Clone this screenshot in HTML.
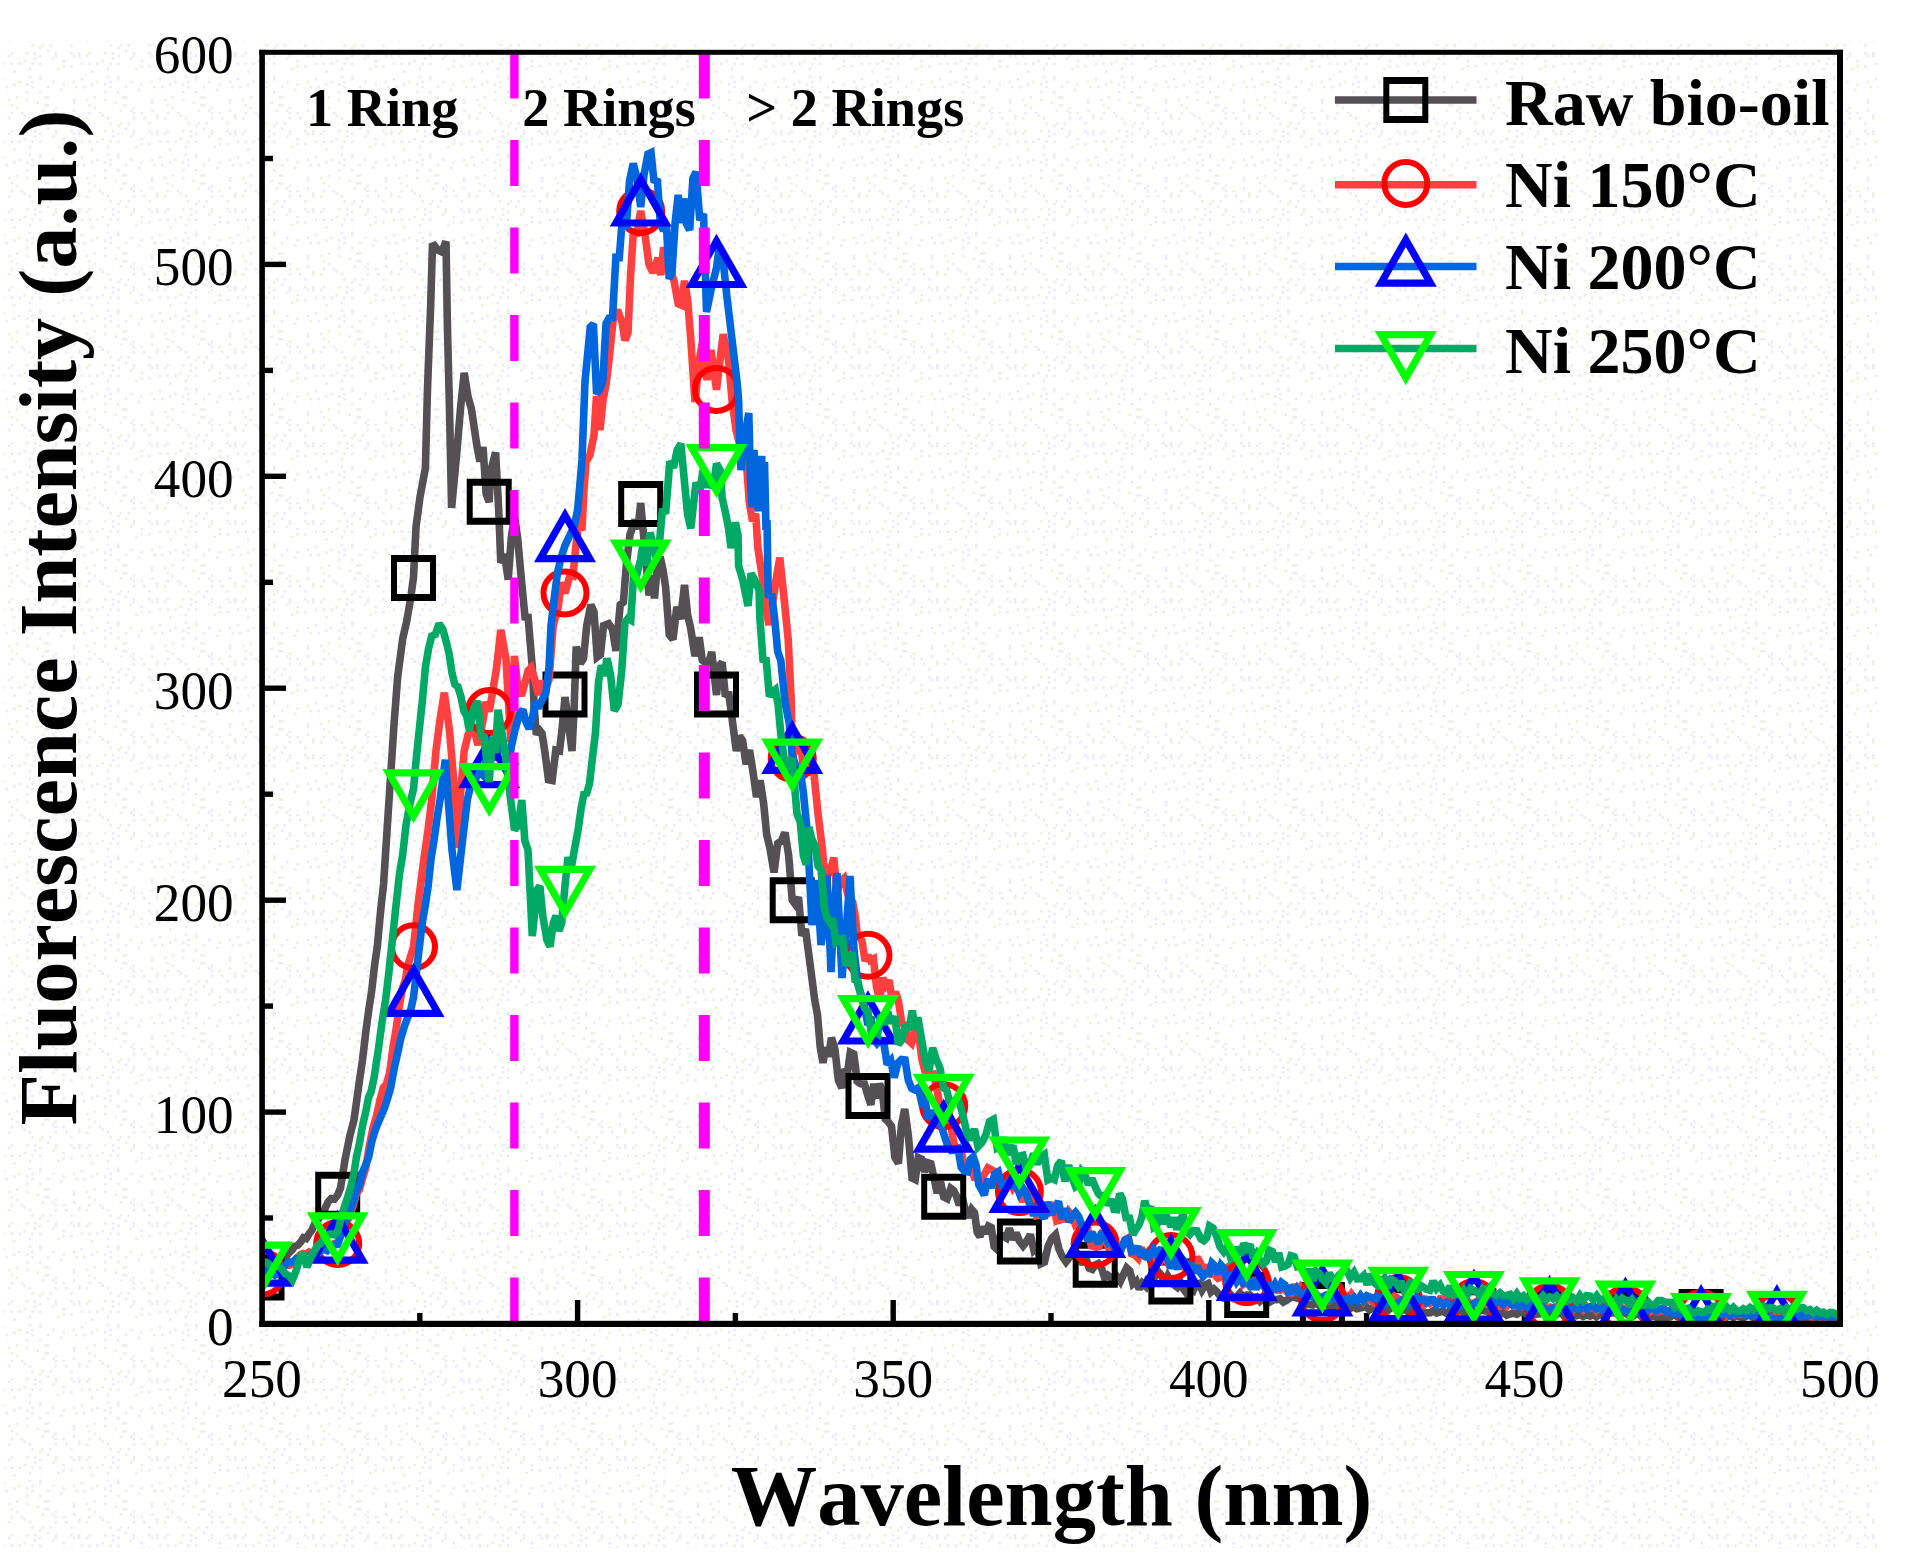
<!DOCTYPE html>
<html lang="en"><head><meta charset="utf-8"><title>Fluorescence spectra</title>
<style>
html,body{margin:0;padding:0;background:#fff;}
body{width:1910px;height:1568px;overflow:hidden;}
svg{display:block;}
text{font-family:"Liberation Serif","Times New Roman",serif;fill:#000;font-kerning:none;}
.tk{font-size:55px;}
.b{font-weight:bold;}
</style></head><body>
<svg width="1910" height="1568" viewBox="0 0 1910 1568">
<rect x="0" y="0" width="1910" height="1568" fill="#fff"/>
<defs><pattern id="dots" width="78" height="78" patternUnits="userSpaceOnUse"><rect x="2.6" y="0.0" width="2.6" height="2.6" fill="#eaeaf9"/><rect x="5.2" y="7.8" width="2.6" height="2.6" fill="#eaeaf9"/><rect x="0.0" y="36.4" width="2.6" height="2.6" fill="#eeeee2"/><rect x="0.0" y="39.0" width="2.6" height="2.6" fill="#eeeee2"/><rect x="0.0" y="52.0" width="2.6" height="2.6" fill="#eaeaf9"/><rect x="0.0" y="54.6" width="2.6" height="2.6" fill="#eaeaf9"/><rect x="2.6" y="62.4" width="2.6" height="2.6" fill="#eeeee2"/><rect x="13.0" y="5.2" width="2.6" height="2.6" fill="#eaeaf9"/><rect x="7.8" y="20.8" width="2.6" height="2.6" fill="#eeeee2"/><rect x="10.4" y="26.0" width="2.6" height="2.6" fill="#eeeee2"/><rect x="10.4" y="33.8" width="2.6" height="2.6" fill="#eaeaf9"/><rect x="7.8" y="39.0" width="2.6" height="2.6" fill="#eeeee2"/><rect x="10.4" y="52.0" width="2.6" height="2.6" fill="#eeeee2"/><rect x="7.8" y="54.6" width="2.6" height="2.6" fill="#eaeaf9"/><rect x="10.4" y="62.4" width="2.6" height="2.6" fill="#eaeaf9"/><rect x="13.0" y="70.2" width="2.6" height="2.6" fill="#eeeee2"/><rect x="18.2" y="2.6" width="2.6" height="2.6" fill="#eeeee2"/><rect x="15.6" y="18.2" width="2.6" height="2.6" fill="#eeeee2"/><rect x="15.6" y="28.6" width="2.6" height="2.6" fill="#eeeee2"/><rect x="20.8" y="33.8" width="2.6" height="2.6" fill="#eaeaf9"/><rect x="18.2" y="62.4" width="2.6" height="2.6" fill="#eaeaf9"/><rect x="26.0" y="5.2" width="2.6" height="2.6" fill="#eaeaf9"/><rect x="26.0" y="13.0" width="2.6" height="2.6" fill="#eaeaf9"/><rect x="26.0" y="20.8" width="2.6" height="2.6" fill="#eeeee2"/><rect x="23.4" y="36.4" width="2.6" height="2.6" fill="#eaeaf9"/><rect x="28.6" y="39.0" width="2.6" height="2.6" fill="#eaeaf9"/><rect x="26.0" y="52.0" width="2.6" height="2.6" fill="#eeeee2"/><rect x="23.4" y="59.8" width="2.6" height="2.6" fill="#eeeee2"/><rect x="28.6" y="67.6" width="2.6" height="2.6" fill="#eaeaf9"/><rect x="28.6" y="75.4" width="2.6" height="2.6" fill="#eaeaf9"/><rect x="31.2" y="2.6" width="2.6" height="2.6" fill="#eaeaf9"/><rect x="31.2" y="7.8" width="2.6" height="2.6" fill="#eaeaf9"/><rect x="36.4" y="23.4" width="2.6" height="2.6" fill="#eeeee2"/><rect x="31.2" y="44.2" width="2.6" height="2.6" fill="#eeeee2"/><rect x="33.8" y="52.0" width="2.6" height="2.6" fill="#eaeaf9"/><rect x="33.8" y="57.2" width="2.6" height="2.6" fill="#eaeaf9"/><rect x="31.2" y="62.4" width="2.6" height="2.6" fill="#eeeee2"/><rect x="39.0" y="0.0" width="2.6" height="2.6" fill="#eeeee2"/><rect x="39.0" y="13.0" width="2.6" height="2.6" fill="#eaeaf9"/><rect x="44.2" y="18.2" width="2.6" height="2.6" fill="#eeeee2"/><rect x="44.2" y="26.0" width="2.6" height="2.6" fill="#eeeee2"/><rect x="41.6" y="31.2" width="2.6" height="2.6" fill="#eeeee2"/><rect x="41.6" y="44.2" width="2.6" height="2.6" fill="#eeeee2"/><rect x="39.0" y="46.8" width="2.6" height="2.6" fill="#eeeee2"/><rect x="39.0" y="54.6" width="2.6" height="2.6" fill="#eaeaf9"/><rect x="39.0" y="62.4" width="2.6" height="2.6" fill="#eaeaf9"/><rect x="39.0" y="75.4" width="2.6" height="2.6" fill="#eaeaf9"/><rect x="52.0" y="2.6" width="2.6" height="2.6" fill="#eaeaf9"/><rect x="46.8" y="7.8" width="2.6" height="2.6" fill="#eaeaf9"/><rect x="46.8" y="18.2" width="2.6" height="2.6" fill="#eeeee2"/><rect x="46.8" y="26.0" width="2.6" height="2.6" fill="#eaeaf9"/><rect x="52.0" y="31.2" width="2.6" height="2.6" fill="#eaeaf9"/><rect x="49.4" y="44.2" width="2.6" height="2.6" fill="#eaeaf9"/><rect x="46.8" y="49.4" width="2.6" height="2.6" fill="#eaeaf9"/><rect x="52.0" y="57.2" width="2.6" height="2.6" fill="#eeeee2"/><rect x="59.8" y="10.4" width="2.6" height="2.6" fill="#eaeaf9"/><rect x="54.6" y="28.6" width="2.6" height="2.6" fill="#eeeee2"/><rect x="54.6" y="33.8" width="2.6" height="2.6" fill="#eaeaf9"/><rect x="54.6" y="39.0" width="2.6" height="2.6" fill="#eaeaf9"/><rect x="54.6" y="52.0" width="2.6" height="2.6" fill="#eeeee2"/><rect x="54.6" y="54.6" width="2.6" height="2.6" fill="#eaeaf9"/><rect x="57.2" y="67.6" width="2.6" height="2.6" fill="#eeeee2"/><rect x="62.4" y="5.2" width="2.6" height="2.6" fill="#eeeee2"/><rect x="62.4" y="33.8" width="2.6" height="2.6" fill="#eeeee2"/><rect x="65.0" y="39.0" width="2.6" height="2.6" fill="#eaeaf9"/><rect x="62.4" y="59.8" width="2.6" height="2.6" fill="#eaeaf9"/><rect x="62.4" y="65.0" width="2.6" height="2.6" fill="#eeeee2"/><rect x="72.8" y="2.6" width="2.6" height="2.6" fill="#eeeee2"/><rect x="75.4" y="7.8" width="2.6" height="2.6" fill="#eeeee2"/><rect x="72.8" y="20.8" width="2.6" height="2.6" fill="#eaeaf9"/><rect x="72.8" y="23.4" width="2.6" height="2.6" fill="#eaeaf9"/><rect x="72.8" y="31.2" width="2.6" height="2.6" fill="#eaeaf9"/><rect x="70.2" y="44.2" width="2.6" height="2.6" fill="#eaeaf9"/><rect x="70.2" y="52.0" width="2.6" height="2.6" fill="#eaeaf9"/><rect x="72.8" y="54.6" width="2.6" height="2.6" fill="#eaeaf9"/><rect x="70.2" y="65.0" width="2.6" height="2.6" fill="#eaeaf9"/></pattern></defs><rect x="4" y="41" width="1874" height="1507" fill="url(#dots)"/>
<defs><clipPath id="cp"><rect x="262.0" y="52.5" width="1578.0" height="1271.5"/></clipPath></defs>
<g stroke="#000" stroke-width="5.4"><line x1="262.0" y1="1218.0" x2="273.0" y2="1218.0"/><line x1="262.0" y1="1112.1" x2="286.0" y2="1112.1"/><line x1="262.0" y1="1006.1" x2="273.0" y2="1006.1"/><line x1="262.0" y1="900.2" x2="286.0" y2="900.2"/><line x1="262.0" y1="794.2" x2="273.0" y2="794.2"/><line x1="262.0" y1="688.2" x2="286.0" y2="688.2"/><line x1="262.0" y1="582.3" x2="273.0" y2="582.3"/><line x1="262.0" y1="476.3" x2="286.0" y2="476.3"/><line x1="262.0" y1="370.4" x2="273.0" y2="370.4"/><line x1="262.0" y1="264.4" x2="286.0" y2="264.4"/><line x1="262.0" y1="158.5" x2="273.0" y2="158.5"/><line x1="419.8" y1="1324.0" x2="419.8" y2="1313.0"/><line x1="577.6" y1="1324.0" x2="577.6" y2="1300.0"/><line x1="735.4" y1="1324.0" x2="735.4" y2="1313.0"/><line x1="893.2" y1="1324.0" x2="893.2" y2="1300.0"/><line x1="1051.0" y1="1324.0" x2="1051.0" y2="1313.0"/><line x1="1208.8" y1="1324.0" x2="1208.8" y2="1300.0"/><line x1="1366.6" y1="1324.0" x2="1366.6" y2="1313.0"/><line x1="1524.4" y1="1324.0" x2="1524.4" y2="1300.0"/><line x1="1682.2" y1="1324.0" x2="1682.2" y2="1313.0"/></g>
<g clip-path="url(#cp)" fill="none" stroke-linejoin="miter" stroke-miterlimit="2.2" stroke-linecap="butt">
<polyline points="262.0,1278.0 266.0,1272.7 270.0,1270.0 273.7,1268.1 277.3,1263.6 281.0,1262.0 284.7,1259.5 288.3,1253.4 292.0,1250.0 294.9,1246.2 297.8,1245.3 300.7,1242.0 303.5,1237.8 306.2,1238.6 309.0,1234.0 312.0,1230.1 315.0,1223.2 318.0,1220.0 321.3,1212.7 324.7,1209.4 328.0,1202.0 331.2,1198.5 334.5,1198.9 337.7,1195.0 340.5,1188.0 345.0,1160.0 350.0,1135.0 354.0,1120.0 359.4,1081.0 362.5,1060.0 365.7,1032.7 368.9,1009.0 371.7,990.7 374.5,966.0 377.3,946.6 380.5,912.2 383.6,883.8 387.4,825.0 391.3,765.8 393.8,727.6 397.7,676.5 402.8,638.3 406.6,621.8 410.4,600.0 413.5,577.5 416.0,527.0 420.0,497.0 425.4,468.0 427.5,388.5 430.7,304.7 432.5,243.5 437.8,250.0 441.9,252.0 446.0,241.5 447.4,325.7 449.5,409.4 451.6,507.9 456.9,451.3 460.5,408.5 464.2,372.8 467.9,396.3 471.5,409.4 476.8,445.0 479.9,461.5 483.0,447.0 486.1,493.7 489.2,502.0 490.4,472.3 495.6,452.4 498.7,510.0 500.8,562.8 504.5,554.4 508.2,579.6 511.3,537.7 514.5,516.6 517.6,537.7 521.8,583.8 525.0,617.0 528.1,617.3 532.3,667.5 534.3,709.4 536.4,734.6 539.2,729.9 542.0,733.3 544.8,751.3 548.5,779.9 552.1,780.6 555.8,750.2 559.5,751.0 562.0,730.0 565.0,697.0 568.0,720.0 572.0,751.0 574.1,709.0 576.2,646.6 580.4,663.4 583.5,658.4 586.7,625.7 590.9,604.7 594.0,612.0 597.2,657.0 600.4,654.6 603.5,625.7 608.7,623.6 612.4,629.1 616.0,650.8 620.2,604.7 623.4,602.1 626.5,562.8 630.0,534.7 635.0,520.0 637.9,529.1 640.7,503.0 644.0,540.0 649.0,595.4 651.8,575.1 654.5,598.4 657.3,566.0 660.1,556.9 662.8,568.6 665.6,587.0 669.3,634.8 673.0,639.4 676.8,606.9 680.7,619.0 684.5,585.0 687.6,614.9 690.8,629.0 695.0,656.2 699.2,637.3 702.3,660.3 705.5,662.8 708.6,663.3 711.7,652.0 716.5,695.0 719.4,665.4 722.2,662.5 725.4,696.6 728.5,691.8 732.7,723.2 736.3,751.0 739.5,736.1 742.6,740.5 746.1,764.3 749.5,750.0 753.0,771.9 756.5,797.1 760.1,780.3 763.6,803.3 766.7,834.6 769.8,847.3 774.0,872.4 777.7,843.5 781.4,841.0 785.0,832.5 788.7,855.7 792.2,900.0 795.0,903.8 798.5,897.2 801.9,935.7 805.4,929.0 809.6,960.4 814.7,1000.0 817.5,1015.0 820.2,1046.9 823.0,1062.8 825.8,1047.4 828.6,1056.6 831.4,1037.7 834.9,1049.0 838.4,1080.5 841.9,1088.0 844.7,1069.2 847.5,1073.0 850.3,1052.4 853.8,1054.0 857.2,1081.3 860.7,1083.8 864.4,1083.9 868.0,1096.0 870.9,1104.8 873.8,1083.7 876.7,1098.2 879.6,1083.8 882.4,1091.8 885.2,1119.0 888.0,1121.5 891.5,1126.2 894.9,1157.2 898.4,1163.4 901.5,1124.9 904.7,1108.9 908.4,1135.7 912.0,1178.0 915.2,1179.6 918.3,1157.7 921.5,1159.0 924.6,1171.8 927.8,1162.8 930.9,1163.8 934.0,1178.0 937.2,1193.3 940.5,1181.4 943.7,1197.0 947.2,1198.7 950.8,1188.5 953.6,1190.6 956.4,1196.0 959.2,1205.0 962.3,1197.2 965.5,1211.4 968.6,1217.2 971.7,1209.4 974.5,1212.6 977.2,1232.3 980.0,1236.6 982.8,1226.8 985.7,1233.5 988.5,1226.2 991.3,1227.6 994.1,1246.7 996.9,1249.2 1000.0,1237.1 1003.1,1236.0 1006.3,1238.0 1009.4,1228.3 1012.7,1239.4 1016.1,1232.9 1019.4,1241.0 1023.1,1245.8 1026.7,1241.2 1030.4,1234.6 1033.9,1250.3 1037.3,1247.2 1040.8,1263.9 1044.5,1262.2 1048.2,1245.9 1051.8,1238.2 1055.5,1234.6 1059.0,1249.2 1062.5,1256.9 1066.0,1261.8 1069.5,1257.3 1073.0,1254.9 1076.5,1252.7 1080.0,1258.0 1083.0,1264.2 1086.1,1258.3 1089.1,1268.2 1092.2,1269.4 1095.2,1265.0 1098.3,1263.6 1101.5,1268.0 1104.6,1277.8 1107.7,1275.2 1110.9,1277.6 1114.0,1284.8 1117.2,1277.0 1120.3,1281.4 1123.5,1274.4 1126.7,1268.0 1129.8,1270.8 1133.0,1283.7 1136.2,1281.1 1139.3,1289.0 1142.4,1283.2 1145.6,1286.2 1148.7,1276.6 1151.9,1283.9 1155.0,1276.0 1158.2,1271.5 1161.4,1275.2 1164.6,1283.1 1167.8,1276.2 1171.0,1281.6 1174.2,1284.9 1177.3,1287.3 1180.5,1282.5 1183.7,1289.2 1186.8,1293.5 1190.0,1290.0 1193.0,1291.1 1196.0,1284.2 1199.0,1283.4 1202.0,1290.0 1205.0,1285.0 1208.0,1283.6 1211.0,1291.9 1214.0,1289.1 1217.0,1291.9 1220.0,1296.0 1223.3,1298.1 1226.7,1297.5 1230.0,1294.0 1233.3,1298.1 1236.7,1297.0 1240.0,1293.2 1243.4,1297.3 1246.7,1295.0 1250.0,1295.0 1253.4,1298.1 1256.7,1296.9 1260.0,1301.1 1263.3,1297.7 1266.7,1303.4 1270.0,1302.0 1273.3,1299.6 1276.7,1299.6 1280.0,1298.8 1283.3,1302.0 1286.7,1300.2 1290.0,1298.0 1293.2,1296.8 1296.5,1297.9 1299.7,1298.9 1303.0,1299.8 1306.2,1303.9 1309.4,1304.6 1312.7,1305.0 1315.9,1302.5 1319.2,1305.4 1322.4,1305.0 1325.8,1303.4 1329.2,1306.5 1332.7,1307.8 1336.1,1304.5 1339.5,1304.9 1342.9,1307.9 1346.3,1306.1 1349.7,1308.6 1353.2,1306.6 1356.6,1308.7 1360.0,1308.0 1363.2,1307.0 1366.3,1306.8 1369.5,1309.9 1372.7,1307.6 1375.8,1309.9 1379.0,1307.1 1382.2,1310.3 1385.3,1307.2 1388.5,1309.8 1391.7,1307.3 1394.8,1306.9 1398.0,1309.0 1401.2,1310.8 1404.5,1308.6 1407.7,1311.6 1410.9,1308.2 1414.2,1309.0 1417.4,1312.2 1420.6,1309.0 1423.8,1312.3 1427.1,1312.9 1430.3,1312.7 1433.5,1310.6 1436.8,1313.1 1440.0,1312.0 1443.4,1311.2 1446.8,1313.4 1450.2,1310.4 1453.6,1313.2 1457.0,1309.6 1460.4,1309.9 1463.8,1313.1 1467.2,1312.1 1470.6,1309.3 1474.0,1311.0 1477.3,1312.8 1480.5,1309.7 1483.8,1310.7 1487.1,1310.9 1490.4,1313.4 1493.6,1310.9 1496.9,1312.1 1500.2,1314.3 1503.5,1312.5 1506.7,1315.2 1510.0,1314.0 1513.3,1313.0 1516.7,1314.3 1520.0,1312.2 1523.3,1312.5 1526.7,1314.4 1530.0,1311.7 1533.3,1314.3 1536.7,1314.3 1540.0,1313.8 1543.3,1310.6 1546.7,1313.5 1550.0,1312.0 1553.3,1311.3 1556.7,1314.3 1560.0,1311.5 1563.3,1315.1 1566.7,1311.9 1570.0,1315.2 1573.3,1313.4 1576.7,1315.6 1580.0,1314.4 1583.3,1316.4 1586.7,1314.7 1590.0,1316.0 1593.2,1314.5 1596.4,1316.7 1599.5,1314.4 1602.7,1315.8 1605.9,1313.1 1609.1,1313.2 1612.3,1313.0 1615.5,1312.7 1618.6,1315.3 1621.8,1312.5 1625.0,1313.0 1628.2,1314.6 1631.4,1313.1 1634.5,1315.2 1637.7,1312.9 1640.9,1316.2 1644.1,1316.5 1647.3,1314.2 1650.5,1317.1 1653.6,1315.3 1656.8,1317.8 1660.0,1317.0 1663.4,1317.9 1666.8,1317.5 1670.2,1316.9 1673.7,1314.5 1677.1,1316.4 1680.5,1313.7 1683.9,1312.9 1687.3,1314.3 1690.8,1311.8 1694.2,1313.9 1697.6,1311.7 1701.0,1312.0 1704.2,1314.2 1707.5,1311.7 1710.8,1314.6 1714.0,1312.8 1717.2,1313.2 1720.5,1316.0 1723.8,1314.0 1727.0,1316.7 1730.2,1314.5 1733.5,1317.5 1736.8,1315.5 1740.0,1317.0 1743.4,1317.9 1746.7,1315.4 1750.1,1315.6 1753.5,1317.7 1756.8,1314.7 1760.2,1317.4 1763.5,1314.9 1766.9,1316.9 1770.3,1316.1 1773.6,1314.4 1777.0,1315.0 1780.3,1314.3 1783.6,1314.3 1786.9,1316.7 1790.2,1315.5 1793.5,1317.7 1796.8,1315.6 1800.1,1318.3 1803.4,1316.6 1806.7,1318.5 1810.0,1318.0 1813.3,1317.4 1816.7,1318.5 1820.0,1316.8 1823.3,1318.5 1826.7,1316.8 1830.0,1317.0 1833.3,1319.2 1836.7,1316.9 1840.0,1318.0" stroke="#545054" stroke-width="7.6"/>
<path transform="translate(262.0,1277.4)" d="M-22.5,-23h45v46h-45z M-16.5,-16h33v32h-33z" fill="#000" fill-rule="evenodd"/><path transform="translate(337.7,1194.7)" d="M-22.5,-23h45v46h-45z M-16.5,-16h33v32h-33z" fill="#000" fill-rule="evenodd"/><path transform="translate(413.5,578.1)" d="M-22.5,-23h45v46h-45z M-16.5,-16h33v32h-33z" fill="#000" fill-rule="evenodd"/><path transform="translate(489.2,501.8)" d="M-22.5,-23h45v46h-45z M-16.5,-16h33v32h-33z" fill="#000" fill-rule="evenodd"/><path transform="translate(565.0,694.6)" d="M-22.5,-23h45v46h-45z M-16.5,-16h33v32h-33z" fill="#000" fill-rule="evenodd"/><path transform="translate(640.7,503.9)" d="M-22.5,-23h45v46h-45z M-16.5,-16h33v32h-33z" fill="#000" fill-rule="evenodd"/><path transform="translate(716.5,694.6)" d="M-22.5,-23h45v46h-45z M-16.5,-16h33v32h-33z" fill="#000" fill-rule="evenodd"/><path transform="translate(792.2,900.2)" d="M-22.5,-23h45v46h-45z M-16.5,-16h33v32h-33z" fill="#000" fill-rule="evenodd"/><path transform="translate(868.0,1096.0)" d="M-22.5,-23h45v46h-45z M-16.5,-16h33v32h-33z" fill="#000" fill-rule="evenodd"/><path transform="translate(943.7,1196.8)" d="M-22.5,-23h45v46h-45z M-16.5,-16h33v32h-33z" fill="#000" fill-rule="evenodd"/><path transform="translate(1019.4,1241.4)" d="M-22.5,-23h45v46h-45z M-16.5,-16h33v32h-33z" fill="#000" fill-rule="evenodd"/><path transform="translate(1095.2,1264.7)" d="M-22.5,-23h45v46h-45z M-16.5,-16h33v32h-33z" fill="#000" fill-rule="evenodd"/><path transform="translate(1170.9,1281.6)" d="M-22.5,-23h45v46h-45z M-16.5,-16h33v32h-33z" fill="#000" fill-rule="evenodd"/><path transform="translate(1246.7,1295.0)" d="M-22.5,-23h45v46h-45z M-16.5,-16h33v32h-33z" fill="#000" fill-rule="evenodd"/><path transform="translate(1322.4,1304.9)" d="M-22.5,-23h45v46h-45z M-16.5,-16h33v32h-33z" fill="#000" fill-rule="evenodd"/><path transform="translate(1398.2,1309.2)" d="M-22.5,-23h45v46h-45z M-16.5,-16h33v32h-33z" fill="#000" fill-rule="evenodd"/><path transform="translate(1473.9,1311.3)" d="M-22.5,-23h45v46h-45z M-16.5,-16h33v32h-33z" fill="#000" fill-rule="evenodd"/><path transform="translate(1549.6,1312.3)" d="M-22.5,-23h45v46h-45z M-16.5,-16h33v32h-33z" fill="#000" fill-rule="evenodd"/><path transform="translate(1625.4,1313.4)" d="M-22.5,-23h45v46h-45z M-16.5,-16h33v32h-33z" fill="#000" fill-rule="evenodd"/><path transform="translate(1701.1,1311.9)" d="M-22.5,-23h45v46h-45z M-16.5,-16h33v32h-33z" fill="#000" fill-rule="evenodd"/><path transform="translate(1776.9,1315.5)" d="M-22.5,-23h45v46h-45z M-16.5,-16h33v32h-33z" fill="#000" fill-rule="evenodd"/>
<polyline points="262.0,1273.0 265.2,1273.2 268.5,1269.9 271.8,1268.0 275.0,1268.0 278.0,1268.3 281.0,1265.6 284.0,1266.9 287.0,1264.6 290.0,1265.0 293.3,1263.3 296.7,1259.5 300.0,1255.0 303.0,1253.5 306.0,1254.4 309.0,1252.2 312.0,1254.2 315.0,1252.0 318.3,1249.1 321.7,1249.3 325.0,1247.0 328.2,1245.3 331.4,1247.1 334.5,1243.5 337.7,1243.5 341.4,1232.5 345.0,1225.0 349.0,1217.5 353.0,1206.0 356.2,1194.5 359.4,1189.4 362.5,1178.7 365.7,1168.0 369.4,1145.7 373.0,1128.0 376.5,1116.1 380.0,1100.0 383.3,1087.6 386.5,1084.2 389.8,1072.0 392.9,1047.8 396.0,1030.0 399.2,1006.8 402.4,988.5 405.2,980.4 408.0,965.0 413.5,946.8 418.0,905.0 423.4,862.8 428.0,830.0 431.7,800.0 435.9,751.3 440.0,720.0 444.3,692.7 449.5,730.4 452.0,760.0 454.8,793.2 455.8,848.0 460.0,800.0 464.2,751.0 468.0,735.0 473.0,725.0 478.0,745.0 483.0,720.0 486.1,702.0 489.2,711.5 493.0,690.0 496.6,667.5 500.8,629.8 506.0,659.2 510.8,742.0 514.4,656.0 517.9,687.8 521.4,695.7 525.2,682.0 528.1,670.6 531.1,667.5 534.0,677.0 538.5,694.8 541.8,680.8 545.0,690.0 549.0,680.0 553.2,625.7 558.0,608.0 561.5,582.4 565.0,593.2 570.0,575.0 573.0,575.9 576.0,545.0 579.0,520.6 581.9,530.5 584.0,490.0 586.0,462.0 590.0,455.0 594.0,435.0 596.5,396.0 600.0,430.0 603.0,400.0 606.0,385.0 609.0,360.0 613.3,318.5 617.5,310.0 622.0,322.0 625.0,340.3 628.0,333.0 630.5,276.6 633.5,230.1 636.5,236.0 640.7,211.0 645.0,235.0 649.0,264.6 653.0,272.4 658.0,258.0 660.8,275.2 663.6,247.3 669.0,265.0 674.0,280.8 678.2,303.8 681.4,305.1 684.5,280.8 687.6,299.8 690.8,339.4 695.0,402.0 699.2,360.0 703.0,340.0 707.0,380.0 711.0,350.0 716.5,389.7 720.0,360.0 723.2,334.2 728.5,360.0 732.0,400.0 736.0,430.0 741.0,450.0 746.3,461.4 749.4,503.3 752.5,521.2 755.7,513.8 757.8,547.3 762.0,575.0 766.0,610.0 769.0,625.0 772.5,603.8 776.0,580.0 779.8,557.7 784.0,597.5 788.2,639.4 791.3,702.0 792.2,758.0 797.0,745.0 800.0,736.6 803.0,765.0 808.0,750.0 810.9,774.7 813.8,772.0 818.0,813.8 822.5,850.0 823.5,863.0 827.1,875.6 830.7,870.0 833.8,857.6 836.9,892.4 840.0,882.0 844.0,878.3 848.0,895.0 852.7,902.0 855.5,918.0 857.0,932.0 862.0,941.0 865.0,960.9 868.0,955.3 870.4,960.4 873.5,958.8 876.6,987.6 879.7,999.4 882.9,977.9 886.0,985.0 889.2,980.3 892.3,1001.8 895.5,991.8 898.6,1001.9 901.8,1023.2 904.9,1025.2 908.0,1040.0 911.5,1043.2 915.0,1030.0 918.5,1033.4 922.0,1060.0 926.0,1075.1 930.0,1075.0 933.5,1074.2 937.0,1090.0 940.4,1108.4 943.7,1105.8 946.9,1123.1 950.0,1120.0 954.0,1144.3 958.0,1150.0 961.0,1149.6 964.0,1166.0 967.0,1165.0 971.0,1165.9 975.0,1180.0 978.0,1174.0 981.0,1182.8 984.0,1175.0 988.0,1167.9 992.0,1170.0 996.0,1172.2 1000.0,1185.0 1003.3,1189.5 1006.7,1174.5 1010.0,1180.0 1013.1,1187.7 1016.3,1183.3 1019.4,1191.6 1022.9,1201.7 1026.5,1187.9 1030.0,1200.0 1033.3,1195.9 1036.7,1215.7 1040.0,1215.0 1043.3,1205.2 1046.7,1216.2 1050.0,1205.0 1053.3,1205.4 1056.7,1221.0 1060.0,1220.0 1063.0,1215.5 1066.0,1221.1 1069.0,1211.8 1072.0,1215.0 1075.2,1224.0 1078.5,1220.9 1081.8,1235.3 1085.0,1235.0 1088.4,1232.0 1091.8,1248.2 1095.2,1244.0 1098.5,1248.9 1101.7,1236.1 1105.0,1240.0 1108.0,1246.2 1111.0,1241.6 1114.0,1250.0 1117.7,1249.7 1121.3,1247.8 1125.0,1240.0 1128.3,1237.9 1131.7,1253.9 1135.0,1255.0 1138.0,1258.1 1141.0,1247.4 1144.0,1255.9 1147.0,1256.6 1150.0,1250.0 1153.3,1249.5 1156.7,1262.5 1160.0,1262.0 1163.7,1255.3 1167.3,1262.0 1171.0,1256.6 1174.5,1253.0 1178.0,1267.8 1181.5,1260.5 1185.0,1268.0 1188.0,1270.9 1191.0,1261.7 1194.0,1267.2 1197.0,1257.3 1200.0,1262.0 1203.0,1270.9 1206.0,1264.9 1209.0,1275.1 1212.0,1268.3 1215.0,1275.0 1218.0,1278.2 1221.0,1276.9 1224.0,1269.3 1227.0,1267.4 1230.0,1272.0 1233.3,1268.6 1236.7,1278.7 1240.0,1274.8 1243.4,1284.1 1246.7,1281.6 1249.8,1286.1 1252.8,1285.0 1255.8,1278.0 1258.9,1287.2 1262.0,1282.3 1265.0,1285.0 1268.3,1280.7 1271.7,1288.9 1275.0,1285.0 1278.3,1292.3 1281.7,1285.8 1285.0,1290.0 1288.0,1292.9 1291.0,1293.0 1294.0,1284.8 1297.0,1290.2 1300.0,1287.0 1303.2,1291.9 1306.4,1287.3 1309.6,1287.9 1312.8,1295.0 1316.0,1294.2 1319.2,1299.6 1322.4,1298.6 1325.6,1296.2 1328.9,1299.3 1332.1,1294.3 1335.3,1298.4 1338.5,1297.7 1341.8,1293.3 1345.0,1295.0 1348.1,1298.2 1351.2,1294.1 1354.4,1299.1 1357.5,1299.6 1360.6,1296.3 1363.8,1301.3 1366.9,1297.0 1370.0,1300.0 1373.5,1302.4 1377.0,1297.7 1380.5,1297.0 1384.0,1301.7 1387.5,1297.8 1391.0,1300.9 1394.5,1296.4 1398.0,1298.6 1401.1,1301.3 1404.3,1298.5 1407.4,1302.2 1410.6,1298.6 1413.7,1302.6 1416.9,1300.1 1420.0,1303.0 1423.3,1304.8 1426.7,1300.3 1430.0,1303.3 1433.3,1300.7 1436.7,1303.5 1440.0,1298.8 1443.3,1299.1 1446.7,1302.6 1450.0,1300.0 1453.4,1301.6 1456.9,1299.3 1460.3,1302.7 1463.7,1299.9 1467.1,1300.6 1470.6,1304.1 1474.0,1303.0 1477.2,1301.1 1480.5,1305.6 1483.8,1302.4 1487.0,1303.5 1490.2,1303.6 1493.5,1307.3 1496.8,1304.2 1500.0,1306.0 1503.1,1304.7 1506.2,1306.7 1509.4,1302.7 1512.5,1302.7 1515.6,1305.3 1518.8,1302.5 1521.9,1305.8 1525.0,1303.0 1528.1,1301.3 1531.2,1305.4 1534.4,1303.5 1537.5,1306.1 1540.6,1304.2 1543.8,1303.8 1546.9,1308.2 1550.0,1307.0 1553.3,1308.3 1556.7,1306.0 1560.0,1309.0 1563.3,1306.0 1566.7,1306.3 1570.0,1305.8 1573.3,1309.5 1576.7,1305.6 1580.0,1306.3 1583.3,1309.9 1586.7,1306.1 1590.0,1308.0 1593.2,1306.0 1596.4,1310.3 1599.5,1306.6 1602.7,1309.6 1605.9,1307.5 1609.1,1307.3 1612.3,1310.6 1615.5,1306.7 1618.6,1309.6 1621.8,1307.7 1625.0,1309.0 1628.2,1307.2 1631.4,1310.7 1634.5,1308.5 1637.7,1308.5 1640.9,1311.5 1644.1,1309.0 1647.3,1309.4 1650.5,1311.4 1653.6,1309.4 1656.8,1311.9 1660.0,1311.0 1663.4,1310.2 1666.8,1312.5 1670.2,1310.0 1673.7,1312.6 1677.1,1313.2 1680.5,1311.4 1683.9,1314.1 1687.3,1311.0 1690.8,1313.9 1694.2,1314.1 1697.6,1311.9 1701.0,1313.4 1704.2,1315.0 1707.5,1312.2 1710.8,1315.3 1714.0,1315.2 1717.2,1312.6 1720.5,1314.4 1723.8,1312.0 1727.0,1315.5 1730.2,1312.2 1733.5,1314.8 1736.8,1314.6 1740.0,1314.0 1743.4,1313.1 1746.7,1315.0 1750.1,1313.7 1753.5,1313.3 1756.8,1316.2 1760.2,1313.7 1763.5,1315.7 1766.9,1314.5 1770.3,1316.8 1773.6,1316.5 1777.0,1315.5 1780.3,1314.1 1783.6,1316.7 1786.9,1315.0 1790.2,1316.5 1793.5,1315.0 1796.8,1317.0 1800.1,1317.3 1803.4,1314.8 1806.7,1315.2 1810.0,1316.0 1813.3,1317.5 1816.7,1315.5 1820.0,1317.2 1823.3,1315.5 1826.7,1317.8 1830.0,1317.7 1833.3,1316.0 1836.7,1318.3 1840.0,1317.0" stroke="#ff4040" stroke-width="7.6"/>
<circle cx="262.0" cy="1273.1" r="21.5" fill="none" stroke="#f00" stroke-width="6"/><circle cx="337.7" cy="1243.5" r="21.5" fill="none" stroke="#f00" stroke-width="6"/><circle cx="413.5" cy="946.8" r="21.5" fill="none" stroke="#f00" stroke-width="6"/><circle cx="489.2" cy="711.6" r="21.5" fill="none" stroke="#f00" stroke-width="6"/><circle cx="565.0" cy="592.9" r="21.5" fill="none" stroke="#f00" stroke-width="6"/><circle cx="640.7" cy="211.4" r="21.5" fill="none" stroke="#f00" stroke-width="6"/><circle cx="716.5" cy="389.4" r="21.5" fill="none" stroke="#f00" stroke-width="6"/><circle cx="792.2" cy="758.2" r="21.5" fill="none" stroke="#f00" stroke-width="6"/><circle cx="868.0" cy="955.3" r="21.5" fill="none" stroke="#f00" stroke-width="6"/><circle cx="943.7" cy="1105.7" r="21.5" fill="none" stroke="#f00" stroke-width="6"/><circle cx="1019.4" cy="1191.6" r="21.5" fill="none" stroke="#f00" stroke-width="6"/><circle cx="1095.2" cy="1243.9" r="21.5" fill="none" stroke="#f00" stroke-width="6"/><circle cx="1170.9" cy="1256.6" r="21.5" fill="none" stroke="#f00" stroke-width="6"/><circle cx="1246.7" cy="1281.6" r="21.5" fill="none" stroke="#f00" stroke-width="6"/><circle cx="1322.4" cy="1298.6" r="21.5" fill="none" stroke="#f00" stroke-width="6"/><circle cx="1398.2" cy="1298.6" r="21.5" fill="none" stroke="#f00" stroke-width="6"/><circle cx="1473.9" cy="1302.8" r="21.5" fill="none" stroke="#f00" stroke-width="6"/><circle cx="1549.6" cy="1307.0" r="21.5" fill="none" stroke="#f00" stroke-width="6"/><circle cx="1625.4" cy="1309.2" r="21.5" fill="none" stroke="#f00" stroke-width="6"/><circle cx="1701.1" cy="1313.4" r="21.5" fill="none" stroke="#f00" stroke-width="6"/><circle cx="1776.9" cy="1315.5" r="21.5" fill="none" stroke="#f00" stroke-width="6"/>
<polyline points="262.0,1267.4 265.2,1268.2 268.5,1272.3 271.8,1272.5 275.0,1275.0 278.0,1273.7 281.0,1269.0 284.0,1266.2 287.0,1263.5 290.0,1262.0 293.0,1261.9 296.0,1258.9 299.0,1261.0 302.0,1258.1 305.0,1258.0 308.0,1258.1 311.0,1255.0 314.0,1253.3 317.0,1254.8 320.0,1252.0 323.5,1248.8 327.1,1250.5 330.6,1245.6 334.2,1245.1 337.7,1244.3 341.4,1234.1 345.0,1222.0 349.0,1213.6 353.0,1202.4 356.2,1191.7 359.4,1185.0 362.5,1172.3 365.7,1164.7 368.8,1156.8 371.9,1141.1 375.1,1130.4 378.2,1122.8 381.4,1115.3 384.5,1108.0 387.6,1098.4 390.8,1087.2 393.9,1070.0 397.0,1056.0 400.8,1038.5 404.5,1026.0 407.5,1018.0 410.5,1010.8 413.5,997.7 419.0,950.0 422.2,923.7 425.4,904.7 428.2,885.7 431.0,859.0 433.8,841.9 436.9,819.2 440.0,800.0 445.3,759.7 448.5,803.7 452.0,850.0 456.9,890.0 462.0,845.0 467.3,800.0 472.0,780.0 475.0,782.4 478.0,770.0 483.0,775.0 486.1,760.4 489.2,768.0 492.1,744.4 495.0,760.0 500.0,745.0 505.0,750.0 508.1,768.6 511.3,747.0 515.0,730.0 519.7,713.6 522.9,709.6 526.0,722.0 529.1,728.6 532.3,720.0 535.1,701.3 538.0,708.0 542.7,699.0 545.9,692.8 549.0,667.5 551.0,625.7 554.0,600.0 557.4,573.3 561.0,558.0 565.0,545.5 570.0,535.0 574.0,527.0 577.7,509.6 582.0,460.0 585.0,381.3 590.3,326.9 593.4,323.9 596.6,393.9 599.7,389.7 602.8,381.2 606.0,323.9 609.1,318.0 612.5,317.6 615.9,257.3 619.3,257.5 622.7,213.2 626.1,229.4 629.5,181.0 633.2,163.5 637.0,178.0 640.7,207.0 644.0,175.0 647.9,154.1 651.0,152.7 654.1,182.4 657.3,179.1 660.4,224.4 663.6,230.5 666.4,224.5 669.2,278.9 672.0,272.4 675.1,222.9 678.2,195.0 681.0,223.0 683.8,198.3 686.6,224.2 689.7,230.0 692.9,178.4 696.0,171.9 699.8,220.3 703.5,213.8 705.5,276.6 706.5,312.0 711.0,290.0 716.5,268.0 719.5,246.0 723.5,264.0 727.0,297.5 732.0,339.4 737.0,381.3 738.6,400.0 739.5,432.0 741.0,470.0 744.5,438.0 748.8,413.0 750.5,480.0 752.0,507.0 754.0,450.0 756.0,500.0 758.5,511.0 761.6,456.0 763.0,500.0 764.5,462.0 766.0,530.0 767.0,520.0 768.3,597.5 771.5,593.5 774.6,618.5 777.7,651.7 780.8,660.4 785.0,702.0 789.2,723.2 792.2,755.0 797.0,770.0 800.2,770.6 803.4,792.8 807.5,834.7 812.0,925.0 817.0,880.0 821.0,945.0 824.0,922.6 827.0,875.0 831.0,972.0 834.0,912.5 837.0,873.0 842.0,978.0 846.0,933.1 850.0,876.0 854.0,950.0 858.0,985.0 863.0,1000.0 868.0,1025.0 871.0,1016.8 874.0,1039.6 877.0,1043.4 880.0,1040.0 883.5,1040.6 887.1,1064.4 890.7,1060.5 894.2,1077.5 897.8,1063.2 901.4,1059.6 905.0,1060.0 908.3,1080.3 911.7,1088.4 915.0,1090.0 918.3,1087.9 921.7,1102.6 925.0,1100.0 928.3,1119.3 931.7,1110.3 935.0,1125.0 937.9,1118.9 940.8,1124.1 943.7,1133.7 947.5,1145.3 951.2,1150.5 955.0,1150.0 958.1,1148.7 961.2,1167.4 964.4,1171.0 967.5,1171.7 970.3,1159.4 973.2,1156.8 976.0,1165.0 978.8,1184.8 981.5,1189.7 984.3,1194.8 987.8,1179.1 991.3,1187.7 994.8,1173.8 998.2,1171.7 1001.6,1185.2 1005.0,1185.0 1008.6,1181.8 1012.2,1185.5 1015.8,1183.6 1019.4,1193.4 1022.9,1188.5 1026.5,1194.4 1030.0,1205.0 1033.6,1215.4 1037.2,1205.9 1040.8,1213.6 1044.3,1218.3 1047.9,1202.2 1051.5,1214.5 1055.0,1208.0 1058.5,1201.4 1061.9,1218.7 1065.4,1208.4 1068.8,1221.9 1072.3,1215.7 1075.5,1212.4 1078.7,1216.5 1081.8,1225.0 1085.0,1232.0 1088.4,1241.4 1091.8,1232.2 1095.2,1238.5 1098.5,1243.1 1101.7,1231.7 1105.0,1236.0 1108.0,1242.4 1111.0,1240.1 1114.0,1247.0 1117.7,1247.6 1121.3,1249.2 1125.0,1240.0 1128.3,1238.7 1131.7,1251.6 1135.0,1251.3 1138.0,1246.6 1141.0,1256.9 1144.0,1249.6 1147.0,1259.2 1150.0,1255.0 1153.3,1249.1 1156.7,1255.0 1160.0,1250.0 1163.7,1250.8 1167.3,1257.9 1171.0,1267.8 1174.5,1261.6 1178.0,1268.7 1181.5,1258.2 1185.0,1262.0 1188.0,1269.2 1191.0,1262.8 1194.0,1273.0 1197.0,1266.1 1200.0,1272.0 1203.0,1276.4 1206.0,1273.3 1209.0,1273.8 1212.0,1263.1 1215.0,1266.0 1218.0,1273.9 1221.0,1265.1 1224.0,1268.5 1227.0,1279.8 1230.0,1278.0 1233.3,1274.6 1236.7,1281.9 1240.0,1278.0 1243.4,1283.1 1246.7,1281.5 1249.8,1285.1 1252.8,1278.9 1255.8,1289.5 1258.9,1281.2 1262.0,1283.2 1265.0,1288.0 1268.3,1285.6 1271.7,1290.5 1275.0,1284.4 1278.3,1290.9 1281.7,1282.6 1285.0,1285.0 1288.0,1291.1 1291.0,1285.9 1294.0,1293.5 1297.0,1288.5 1300.0,1293.0 1303.2,1295.4 1306.4,1292.3 1309.6,1296.7 1312.8,1297.1 1316.0,1294.5 1319.2,1298.8 1322.4,1297.0 1325.6,1295.5 1328.9,1300.0 1332.1,1299.5 1335.3,1296.4 1338.5,1297.3 1341.8,1301.8 1345.0,1300.0 1348.1,1298.2 1351.2,1301.2 1354.4,1297.5 1357.5,1301.2 1360.6,1295.9 1363.8,1300.3 1366.9,1295.9 1370.0,1297.0 1373.1,1298.6 1376.3,1296.6 1379.4,1300.4 1382.5,1297.1 1385.7,1302.7 1388.8,1298.7 1391.9,1303.6 1395.1,1303.7 1398.2,1302.5 1401.3,1300.1 1404.4,1300.2 1407.5,1303.9 1410.7,1299.8 1413.8,1302.9 1416.9,1297.8 1420.0,1300.0 1423.3,1299.2 1426.7,1302.5 1430.0,1299.6 1433.3,1299.8 1436.7,1305.1 1440.0,1301.8 1443.3,1304.9 1446.7,1302.3 1450.0,1305.0 1453.4,1306.2 1456.9,1302.7 1460.3,1305.7 1463.7,1302.5 1467.1,1305.7 1470.6,1305.2 1474.0,1303.5 1477.2,1302.3 1480.5,1305.1 1483.8,1300.6 1487.0,1301.7 1490.2,1301.1 1493.5,1304.5 1496.8,1300.2 1500.0,1302.0 1503.1,1304.7 1506.2,1300.9 1509.4,1301.6 1512.5,1305.0 1515.6,1303.1 1518.8,1306.9 1521.9,1304.4 1525.0,1306.0 1528.5,1308.2 1532.1,1304.9 1535.6,1308.5 1539.1,1309.0 1542.6,1306.7 1546.2,1310.5 1549.7,1309.5 1553.1,1307.9 1556.4,1310.1 1559.8,1307.1 1563.1,1310.2 1566.5,1307.2 1569.8,1309.5 1573.2,1308.9 1576.6,1306.7 1579.9,1308.9 1583.3,1306.1 1586.6,1309.1 1590.0,1307.0 1593.2,1305.4 1596.4,1308.9 1599.7,1307.2 1602.9,1310.2 1606.1,1307.8 1609.3,1310.9 1612.5,1311.3 1615.7,1309.0 1619.0,1311.2 1622.2,1309.2 1625.4,1311.0 1628.9,1311.8 1632.3,1311.3 1635.8,1312.3 1639.2,1311.4 1642.7,1308.5 1646.2,1311.8 1649.6,1308.5 1653.1,1308.0 1656.5,1310.9 1660.0,1309.0 1663.4,1308.1 1666.8,1312.0 1670.2,1310.3 1673.7,1313.6 1677.1,1312.0 1680.5,1315.1 1683.9,1313.2 1687.3,1315.0 1690.8,1315.4 1694.2,1318.2 1697.6,1317.6 1701.0,1319.0 1704.2,1319.7 1707.5,1316.8 1710.8,1318.1 1714.0,1318.1 1717.2,1317.7 1720.5,1315.1 1723.8,1314.0 1727.0,1314.0 1730.2,1315.6 1733.5,1313.4 1736.8,1314.3 1740.0,1313.0 1743.4,1312.4 1746.7,1315.3 1750.1,1313.4 1753.5,1316.2 1756.8,1314.8 1760.2,1317.7 1763.5,1316.0 1766.9,1318.3 1770.3,1317.2 1773.6,1319.1 1777.0,1319.0 1780.3,1319.2 1783.6,1317.6 1786.9,1318.4 1790.2,1316.8 1793.5,1317.6 1796.8,1315.6 1800.1,1316.8 1803.4,1314.8 1806.7,1316.0 1810.0,1315.0 1813.3,1314.4 1816.7,1317.2 1820.0,1315.4 1823.3,1317.0 1826.7,1315.8 1830.0,1317.6 1833.3,1316.6 1836.7,1316.8 1840.0,1318.0" stroke="#0066dd" stroke-width="7.6"/>
<path transform="translate(262.0,1266.6)" d="M0,-26.8 L24.8,16.6 L-24.8,16.6 Z" fill="none" stroke="#00f" stroke-width="7.2" stroke-linejoin="miter"/><path transform="translate(337.7,1243.5)" d="M0,-26.8 L24.8,16.6 L-24.8,16.6 Z" fill="none" stroke="#00f" stroke-width="7.2" stroke-linejoin="miter"/><path transform="translate(413.5,996.8)" d="M0,-26.8 L24.8,16.6 L-24.8,16.6 Z" fill="none" stroke="#00f" stroke-width="7.2" stroke-linejoin="miter"/><path transform="translate(489.2,768.0)" d="M0,-26.8 L24.8,16.6 L-24.8,16.6 Z" fill="none" stroke="#00f" stroke-width="7.2" stroke-linejoin="miter"/><path transform="translate(565.0,542.1)" d="M0,-26.8 L24.8,16.6 L-24.8,16.6 Z" fill="none" stroke="#00f" stroke-width="7.2" stroke-linejoin="miter"/><path transform="translate(640.7,206.4)" d="M0,-26.8 L24.8,16.6 L-24.8,16.6 Z" fill="none" stroke="#00f" stroke-width="7.2" stroke-linejoin="miter"/><path transform="translate(716.5,267.9)" d="M0,-26.8 L24.8,16.6 L-24.8,16.6 Z" fill="none" stroke="#00f" stroke-width="7.2" stroke-linejoin="miter"/><path transform="translate(792.2,753.8)" d="M0,-26.8 L24.8,16.6 L-24.8,16.6 Z" fill="none" stroke="#00f" stroke-width="7.2" stroke-linejoin="miter"/><path transform="translate(868.0,1024.4)" d="M0,-26.8 L24.8,16.6 L-24.8,16.6 Z" fill="none" stroke="#00f" stroke-width="7.2" stroke-linejoin="miter"/><path transform="translate(943.7,1132.5)" d="M0,-26.8 L24.8,16.6 L-24.8,16.6 Z" fill="none" stroke="#00f" stroke-width="7.2" stroke-linejoin="miter"/><path transform="translate(1019.4,1192.7)" d="M0,-26.8 L24.8,16.6 L-24.8,16.6 Z" fill="none" stroke="#00f" stroke-width="7.2" stroke-linejoin="miter"/><path transform="translate(1095.2,1237.8)" d="M0,-26.8 L24.8,16.6 L-24.8,16.6 Z" fill="none" stroke="#00f" stroke-width="7.2" stroke-linejoin="miter"/><path transform="translate(1170.9,1267.0)" d="M0,-26.8 L24.8,16.6 L-24.8,16.6 Z" fill="none" stroke="#00f" stroke-width="7.2" stroke-linejoin="miter"/><path transform="translate(1246.7,1280.8)" d="M0,-26.8 L24.8,16.6 L-24.8,16.6 Z" fill="none" stroke="#00f" stroke-width="7.2" stroke-linejoin="miter"/><path transform="translate(1322.4,1296.3)" d="M0,-26.8 L24.8,16.6 L-24.8,16.6 Z" fill="none" stroke="#00f" stroke-width="7.2" stroke-linejoin="miter"/><path transform="translate(1398.2,1302.0)" d="M0,-26.8 L24.8,16.6 L-24.8,16.6 Z" fill="none" stroke="#00f" stroke-width="7.2" stroke-linejoin="miter"/><path transform="translate(1473.9,1302.6)" d="M0,-26.8 L24.8,16.6 L-24.8,16.6 Z" fill="none" stroke="#00f" stroke-width="7.2" stroke-linejoin="miter"/><path transform="translate(1549.6,1308.8)" d="M0,-26.8 L24.8,16.6 L-24.8,16.6 Z" fill="none" stroke="#00f" stroke-width="7.2" stroke-linejoin="miter"/><path transform="translate(1625.4,1310.5)" d="M0,-26.8 L24.8,16.6 L-24.8,16.6 Z" fill="none" stroke="#00f" stroke-width="7.2" stroke-linejoin="miter"/><path transform="translate(1701.1,1318.1)" d="M0,-26.8 L24.8,16.6 L-24.8,16.6 Z" fill="none" stroke="#00f" stroke-width="7.2" stroke-linejoin="miter"/><path transform="translate(1776.9,1318.1)" d="M0,-26.8 L24.8,16.6 L-24.8,16.6 Z" fill="none" stroke="#00f" stroke-width="7.2" stroke-linejoin="miter"/>
<polyline points="262.0,1261.0 266.0,1262.3 270.0,1265.0 273.0,1266.8 275.9,1266.2 278.9,1266.9 281.9,1269.4 285.4,1273.7 288.9,1275.7 292.4,1280.0 295.9,1271.5 299.3,1260.2 302.8,1252.7 307.0,1267.0 311.0,1257.0 315.0,1250.0 317.9,1245.1 320.9,1243.4 323.8,1238.0 327.3,1234.7 330.8,1234.0 334.2,1234.8 337.7,1231.7 341.4,1217.3 345.0,1205.0 348.0,1196.3 351.0,1185.7 353.8,1174.1 356.6,1156.3 359.4,1143.8 362.5,1125.8 365.7,1112.0 368.5,1097.8 371.2,1091.3 374.0,1078.0 378.0,1052.0 381.9,1023.2 385.7,999.0 389.2,969.7 392.6,937.7 396.1,904.7 399.4,874.8 402.7,854.7 406.0,825.0 409.8,804.3 413.5,789.0 416.4,757.3 419.2,730.4 422.3,701.5 425.4,667.5 428.5,648.9 431.7,636.1 435.4,634.5 439.1,623.6 442.8,629.1 446.4,642.4 449.2,654.1 452.0,673.0 454.8,684.3 457.9,686.6 461.0,696.9 463.8,711.0 466.6,715.9 469.4,730.4 473.6,709.4 477.8,701.0 480.9,735.3 484.0,736.6 489.2,782.0 492.5,736.6 495.3,752.9 498.0,709.8 500.8,726.2 505.0,751.0 510.0,795.0 514.5,830.0 518.1,825.2 521.8,800.0 524.9,841.0 528.0,850.0 532.3,936.0 537.0,890.0 539.9,886.1 542.7,915.2 547.0,940.3 550.1,946.6 553.2,923.6 556.0,915.7 558.8,930.9 561.6,923.6 565.0,885.6 568.0,857.1 571.0,869.6 574.0,852.0 578.3,829.0 581.1,808.4 583.9,794.0 586.7,793.2 589.5,783.7 592.4,758.0 595.5,732.5 598.6,681.3 601.4,665.3 604.2,675.8 607.0,658.3 610.6,675.0 614.3,710.6 618.0,704.8 621.7,670.8 624.9,622.9 628.0,618.5 630.8,620.1 633.5,576.6 636.3,576.6 640.5,559.8 643.6,540.3 646.8,565.8 649.9,532.6 653.0,543.0 656.1,557.5 659.3,544.3 662.5,508.9 665.6,513.8 669.8,461.4 673.5,467.7 677.2,450.0 680.9,443.8 684.5,482.4 687.6,514.6 690.8,528.4 696.0,482.4 699.5,493.7 703.0,470.0 706.5,487.4 710.0,475.0 713.2,488.3 716.5,463.7 720.8,471.4 722.0,497.0 725.9,514.8 728.4,527.6 731.0,548.0 735.4,522.4 738.0,535.0 738.6,565.8 742.4,578.6 745.0,591.3 748.0,606.0 751.0,573.5 754.0,578.6 759.0,590.0 759.9,618.5 763.0,659.6 766.2,660.4 769.4,696.4 772.5,691.8 775.3,689.6 778.0,703.9 780.8,733.7 784.0,758.0 788.0,765.0 792.2,758.3 797.0,813.8 800.2,821.9 803.4,855.7 806.2,864.6 808.9,827.2 811.7,839.0 814.9,845.3 818.0,866.0 821.1,869.9 824.3,908.0 827.1,917.9 829.9,922.3 832.7,918.5 835.9,942.0 839.0,939.4 842.5,938.9 845.9,965.0 849.4,960.4 852.2,952.3 855.0,979.8 857.8,981.3 861.2,997.0 864.6,1008.2 868.0,1012.0 871.5,1033.5 875.0,1030.0 877.9,1032.8 880.8,1015.0 884.3,1024.8 887.8,1012.2 891.3,1023.2 894.8,1016.5 898.3,1044.3 901.8,1040.0 905.3,1024.9 908.8,1030.1 912.3,1010.6 915.1,1029.2 917.8,1017.5 920.6,1033.7 925.7,1062.8 929.1,1070.8 932.6,1047.8 936.0,1058.6 939.9,1067.9 943.7,1088.0 946.6,1090.0 949.4,1100.9 952.2,1103.6 955.0,1100.0 957.8,1097.5 960.6,1106.5 963.4,1117.3 967.0,1133.5 970.7,1139.9 974.4,1128.9 978.0,1146.6 981.8,1142.7 985.7,1135.4 989.5,1121.5 993.3,1119.4 997.2,1148.1 1001.0,1146.6 1004.0,1137.5 1007.0,1153.8 1010.0,1150.0 1013.1,1145.7 1016.3,1164.2 1019.4,1156.0 1022.9,1155.2 1026.5,1169.5 1030.0,1165.0 1033.6,1153.7 1037.2,1164.0 1040.8,1157.0 1044.3,1154.5 1047.8,1179.8 1051.3,1178.0 1054.4,1179.5 1057.6,1165.4 1061.3,1160.8 1064.9,1181.4 1068.6,1165.2 1072.3,1178.0 1075.5,1186.5 1078.7,1184.1 1081.8,1171.3 1085.0,1175.0 1088.4,1184.8 1091.8,1178.5 1095.2,1186.7 1098.5,1193.8 1101.7,1196.7 1105.0,1195.0 1108.0,1205.3 1111.0,1199.3 1114.0,1209.4 1116.8,1209.7 1119.7,1193.6 1122.5,1199.0 1126.0,1217.8 1129.5,1218.1 1133.0,1234.6 1135.9,1229.2 1138.8,1225.5 1141.8,1217.2 1144.7,1201.0 1147.8,1210.9 1150.8,1206.6 1153.9,1226.5 1157.0,1224.0 1159.9,1212.3 1162.7,1223.9 1165.6,1213.8 1171.0,1226.5 1174.0,1217.4 1177.0,1229.7 1180.0,1220.0 1183.2,1214.6 1186.5,1231.4 1189.8,1234.5 1193.0,1230.5 1197.0,1230.8 1201.0,1239.0 1203.9,1240.7 1206.7,1237.9 1209.6,1226.0 1213.1,1228.1 1216.5,1235.9 1220.0,1247.0 1223.7,1251.8 1227.3,1246.3 1231.0,1258.8 1234.7,1255.7 1237.7,1247.1 1240.7,1255.4 1243.7,1243.3 1246.7,1248.6 1250.0,1244.7 1253.2,1258.2 1256.5,1253.6 1259.8,1260.0 1263.0,1264.4 1266.1,1261.7 1269.2,1250.1 1272.4,1251.5 1275.6,1261.8 1278.7,1252.9 1281.8,1267.0 1285.0,1266.0 1288.0,1264.3 1291.0,1255.7 1294.2,1256.8 1297.4,1266.5 1300.6,1265.5 1303.8,1272.4 1306.9,1279.4 1310.0,1269.1 1313.1,1280.5 1316.2,1271.2 1319.3,1273.3 1322.4,1279.0 1325.8,1282.6 1329.2,1273.1 1332.6,1278.9 1336.0,1279.3 1339.4,1274.5 1343.1,1271.3 1346.7,1270.4 1350.3,1277.7 1354.0,1272.4 1357.2,1278.8 1360.4,1278.7 1363.8,1275.5 1367.3,1284.5 1370.7,1274.3 1374.1,1282.6 1377.6,1285.3 1381.0,1280.8 1384.4,1278.0 1387.9,1287.4 1391.3,1279.4 1394.8,1281.0 1398.2,1286.3 1401.3,1281.5 1404.4,1291.1 1407.5,1290.3 1410.6,1282.8 1413.7,1283.9 1416.8,1291.6 1419.9,1285.0 1423.0,1287.0 1426.4,1289.2 1429.8,1290.2 1433.2,1281.0 1436.6,1288.4 1440.0,1285.0 1443.3,1291.4 1446.7,1293.0 1450.0,1286.1 1453.4,1295.0 1456.7,1293.4 1460.2,1294.6 1463.6,1289.7 1467.1,1295.0 1470.5,1288.6 1474.0,1290.5 1477.0,1292.5 1480.0,1295.3 1483.0,1288.8 1486.0,1291.0 1489.5,1287.5 1493.0,1293.6 1496.5,1295.5 1500.0,1292.9 1503.5,1295.8 1507.0,1295.5 1510.3,1294.5 1513.6,1298.7 1516.9,1293.8 1520.1,1298.4 1523.4,1295.9 1526.7,1300.0 1530.0,1297.5 1533.3,1294.8 1536.6,1299.5 1539.8,1299.4 1543.1,1295.7 1546.4,1299.5 1549.7,1296.8 1553.1,1298.8 1556.5,1296.2 1559.8,1300.9 1563.2,1296.9 1566.6,1301.3 1570.0,1300.0 1573.3,1297.9 1576.7,1301.3 1580.0,1295.7 1583.3,1300.1 1586.7,1295.5 1590.0,1296.0 1593.3,1299.9 1596.7,1295.8 1600.0,1300.6 1603.3,1299.0 1606.7,1300.7 1610.0,1303.0 1613.1,1304.7 1616.2,1299.3 1619.2,1303.1 1622.3,1298.1 1625.4,1300.0 1628.7,1303.2 1631.9,1299.6 1635.2,1304.6 1638.5,1302.1 1641.7,1305.5 1645.0,1305.0 1648.3,1302.1 1651.7,1305.4 1655.0,1304.6 1658.3,1300.6 1661.7,1300.5 1665.0,1302.0 1668.3,1302.2 1671.7,1302.4 1675.0,1307.6 1678.3,1305.6 1681.7,1309.3 1685.0,1309.0 1688.2,1308.3 1691.5,1312.1 1694.7,1312.7 1698.0,1310.9 1701.2,1312.5 1704.3,1312.4 1707.5,1309.4 1710.6,1310.4 1713.7,1306.4 1716.9,1306.0 1720.0,1306.0 1723.3,1309.1 1726.7,1306.9 1730.0,1310.4 1733.3,1307.3 1736.7,1310.9 1740.0,1311.0 1743.3,1308.7 1746.7,1310.6 1750.0,1307.6 1753.3,1309.7 1756.7,1306.9 1760.0,1307.0 1763.4,1305.9 1766.8,1309.3 1770.2,1307.5 1773.6,1308.4 1777.0,1310.4 1780.3,1308.7 1783.6,1311.3 1786.9,1307.8 1790.1,1309.8 1793.4,1306.8 1796.7,1309.2 1800.0,1308.0 1803.3,1307.7 1806.7,1310.8 1810.0,1309.6 1813.3,1312.9 1816.7,1310.3 1820.0,1313.0 1823.3,1312.2 1826.7,1314.6 1830.0,1312.5 1833.3,1312.8 1836.7,1314.6 1840.0,1314.0" stroke="#00aa64" stroke-width="7.6"/>
<path transform="translate(262.0,1258.9)" d="M0,29.4 L24.8,-13.8 L-24.8,-13.8 Z" fill="none" stroke="#0f0" stroke-width="7.2" stroke-linejoin="miter"/><path transform="translate(337.7,1229.6)" d="M0,29.4 L24.8,-13.8 L-24.8,-13.8 Z" fill="none" stroke="#0f0" stroke-width="7.2" stroke-linejoin="miter"/><path transform="translate(413.5,786.7)" d="M0,29.4 L24.8,-13.8 L-24.8,-13.8 Z" fill="none" stroke="#0f0" stroke-width="7.2" stroke-linejoin="miter"/><path transform="translate(489.2,780.4)" d="M0,29.4 L24.8,-13.8 L-24.8,-13.8 Z" fill="none" stroke="#0f0" stroke-width="7.2" stroke-linejoin="miter"/><path transform="translate(565.0,883.1)" d="M0,29.4 L24.8,-13.8 L-24.8,-13.8 Z" fill="none" stroke="#0f0" stroke-width="7.2" stroke-linejoin="miter"/><path transform="translate(640.7,556.8)" d="M0,29.4 L24.8,-13.8 L-24.8,-13.8 Z" fill="none" stroke="#0f0" stroke-width="7.2" stroke-linejoin="miter"/><path transform="translate(716.5,461.4)" d="M0,29.4 L24.8,-13.8 L-24.8,-13.8 Z" fill="none" stroke="#0f0" stroke-width="7.2" stroke-linejoin="miter"/><path transform="translate(792.2,756.0)" d="M0,29.4 L24.8,-13.8 L-24.8,-13.8 Z" fill="none" stroke="#0f0" stroke-width="7.2" stroke-linejoin="miter"/><path transform="translate(868.0,1012.4)" d="M0,29.4 L24.8,-13.8 L-24.8,-13.8 Z" fill="none" stroke="#0f0" stroke-width="7.2" stroke-linejoin="miter"/><path transform="translate(943.7,1091.2)" d="M0,29.4 L24.8,-13.8 L-24.8,-13.8 Z" fill="none" stroke="#0f0" stroke-width="7.2" stroke-linejoin="miter"/><path transform="translate(1019.4,1153.8)" d="M0,29.4 L24.8,-13.8 L-24.8,-13.8 Z" fill="none" stroke="#0f0" stroke-width="7.2" stroke-linejoin="miter"/><path transform="translate(1095.2,1184.5)" d="M0,29.4 L24.8,-13.8 L-24.8,-13.8 Z" fill="none" stroke="#0f0" stroke-width="7.2" stroke-linejoin="miter"/><path transform="translate(1170.9,1224.3)" d="M0,29.4 L24.8,-13.8 L-24.8,-13.8 Z" fill="none" stroke="#0f0" stroke-width="7.2" stroke-linejoin="miter"/><path transform="translate(1246.7,1246.4)" d="M0,29.4 L24.8,-13.8 L-24.8,-13.8 Z" fill="none" stroke="#0f0" stroke-width="7.2" stroke-linejoin="miter"/><path transform="translate(1322.4,1276.9)" d="M0,29.4 L24.8,-13.8 L-24.8,-13.8 Z" fill="none" stroke="#0f0" stroke-width="7.2" stroke-linejoin="miter"/><path transform="translate(1398.2,1284.1)" d="M0,29.4 L24.8,-13.8 L-24.8,-13.8 Z" fill="none" stroke="#0f0" stroke-width="7.2" stroke-linejoin="miter"/><path transform="translate(1473.9,1288.3)" d="M0,29.4 L24.8,-13.8 L-24.8,-13.8 Z" fill="none" stroke="#0f0" stroke-width="7.2" stroke-linejoin="miter"/><path transform="translate(1549.6,1294.7)" d="M0,29.4 L24.8,-13.8 L-24.8,-13.8 Z" fill="none" stroke="#0f0" stroke-width="7.2" stroke-linejoin="miter"/><path transform="translate(1625.4,1297.9)" d="M0,29.4 L24.8,-13.8 L-24.8,-13.8 Z" fill="none" stroke="#0f0" stroke-width="7.2" stroke-linejoin="miter"/><path transform="translate(1701.1,1310.4)" d="M0,29.4 L24.8,-13.8 L-24.8,-13.8 Z" fill="none" stroke="#0f0" stroke-width="7.2" stroke-linejoin="miter"/><path transform="translate(1776.9,1308.2)" d="M0,29.4 L24.8,-13.8 L-24.8,-13.8 Z" fill="none" stroke="#0f0" stroke-width="7.2" stroke-linejoin="miter"/>
<line x1="514.4" y1="52.5" x2="514.4" y2="1324.0" stroke="#f0f" stroke-width="8.4" stroke-dasharray="46 41.5"/>
<line x1="704.3" y1="52.5" x2="704.3" y2="1324.0" stroke="#f0f" stroke-width="11" stroke-dasharray="46 41.5"/>
</g>
<g fill="#000"><rect x="259.3" y="49.8" width="1583.7" height="5"/><rect x="259.3" y="1320.8" width="1583.7" height="6.2"/><rect x="259.3" y="49.8" width="5.6" height="1277.2"/><rect x="1837" y="49.8" width="6" height="1277.2"/></g>
<text class="tk" x="207.0" y="1344.7" textLength="26.6" lengthAdjust="spacingAndGlyphs">0</text>
<text class="tk" x="153.8" y="1132.8" textLength="79.8" lengthAdjust="spacingAndGlyphs">100</text>
<text class="tk" x="153.8" y="920.9" textLength="79.8" lengthAdjust="spacingAndGlyphs">200</text>
<text class="tk" x="153.8" y="709.0" textLength="79.8" lengthAdjust="spacingAndGlyphs">300</text>
<text class="tk" x="153.8" y="497.0" textLength="79.8" lengthAdjust="spacingAndGlyphs">400</text>
<text class="tk" x="153.8" y="285.1" textLength="79.8" lengthAdjust="spacingAndGlyphs">500</text>
<text class="tk" x="153.8" y="73.2" textLength="79.8" lengthAdjust="spacingAndGlyphs">600</text>
<text class="tk" x="222.1" y="1397.3" textLength="79.8" lengthAdjust="spacingAndGlyphs">250</text>
<text class="tk" x="537.7" y="1397.3" textLength="79.8" lengthAdjust="spacingAndGlyphs">300</text>
<text class="tk" x="853.3" y="1397.3" textLength="79.8" lengthAdjust="spacingAndGlyphs">350</text>
<text class="tk" x="1168.9" y="1397.3" textLength="79.8" lengthAdjust="spacingAndGlyphs">400</text>
<text class="tk" x="1484.5" y="1397.3" textLength="79.8" lengthAdjust="spacingAndGlyphs">450</text>
<text class="tk" x="1800.1" y="1397.3" textLength="79.8" lengthAdjust="spacingAndGlyphs">500</text>
<text class="b" font-size="54.3" x="306" y="125.8">1 Ring</text>
<text class="b" font-size="54.3" x="522.3" y="125.8">2 Rings</text>
<text class="b" font-size="54.3" x="746.3" y="125.8">&gt; 2 Rings</text>
<line x1="1335" y1="100.1" x2="1476.5" y2="100.1" stroke="#545054" stroke-width="7.5"/>
<line x1="1335" y1="184.7" x2="1476.5" y2="184.7" stroke="#ff4040" stroke-width="7.5"/>
<line x1="1335" y1="266.6" x2="1476.5" y2="266.6" stroke="#0066dd" stroke-width="7.5"/>
<line x1="1335" y1="348.5" x2="1476.5" y2="348.5" stroke="#00aa64" stroke-width="7.5"/>
<path transform="translate(1405.8,100.1)" d="M-22.5,-23h45v46h-45z M-16.5,-16h33v32h-33z" fill="#000" fill-rule="evenodd"/><circle cx="1405.8" cy="183.5" r="21.5" fill="none" stroke="#f00" stroke-width="6"/><path transform="translate(1405.8,266.6)" d="M0,-26.8 L24.8,16.6 L-24.8,16.6 Z" fill="none" stroke="#00f" stroke-width="7.2" stroke-linejoin="miter"/><path transform="translate(1405.8,348.5)" d="M0,29.4 L24.8,-13.8 L-24.8,-13.8 Z" fill="none" stroke="#0f0" stroke-width="7.2" stroke-linejoin="miter"/>
<text class="b" font-size="66" x="1505" y="124.8">Raw bio-oil</text>
<text class="b" font-size="66" x="1505" y="206.8">Ni 150°C</text>
<text class="b" font-size="66" x="1505" y="289.0">Ni 200°C</text>
<text class="b" font-size="66" x="1505" y="373.0">Ni 250°C</text>
<text class="b" font-size="86.5" x="1051.5" y="1525" text-anchor="middle">Wavelength (nm)</text>
<text class="b" font-size="84.3" transform="translate(75.5,617.5) rotate(-90) scale(1,0.97)" text-anchor="middle">Fluorescence Intensity (a.u.)</text>
</svg>
</body></html>
